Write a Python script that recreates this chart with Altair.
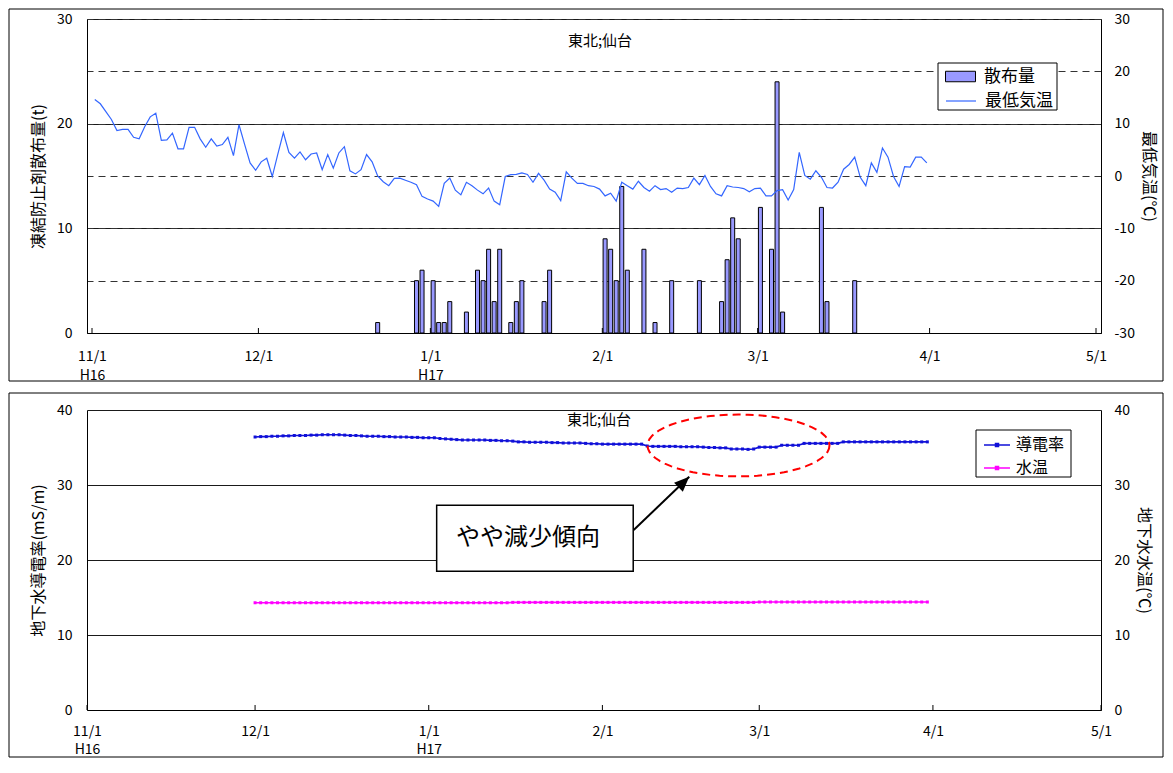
import math
import altair as alt
import pandas as pd

FONT = "Noto Sans CJK JP"

# ------------------------------------------------------------------ data
panel_title = "東北;仙台"
month_ticks = ["2004-11-01", "2004-12-01", "2005-01-01", "2005-02-01",
               "2005-03-01", "2005-04-01", "2005-05-01"]

# top panel: daily minimum temperature (deg C) from 2004-11-01
min_temp_start = "2004-11-01"
min_temp = [
    14.6, 13.8, 12.3, 10.8, 8.7, 8.9, 8.9, 7.4, 7.1, 9.4,
    11.3, 12.0, 6.8, 6.9, 8.2, 5.2, 5.2, 9.3, 9.3, 7.1,
    5.5, 7.1, 5.7, 6.0, 7.4, 3.9, 9.8, 6.1, 2.5, 1.1,
    2.7, 3.4, -0.1, 4.2, 8.3, 4.5, 3.4, 4.6, 3.1, 4.2,
    4.4, 1.2, 4.1, 1.5, 4.4, 5.6, 1.0, 0.4, 1.2, 4.1,
    2.7, 0.0, -1.1, -1.85, -0.45, -0.4, -0.8, -1.2, -1.65, -3.9,
    -4.4, -4.8, -5.8, -1.4, -0.4, -2.7, -3.6, -1.2, -1.85, -2.7,
    -3.4, -2.3, -4.8, -5.5, -0.1, 0.25, 0.3, 0.6, 0.3, -1.2,
    0.5, -0.8, -2.5, -3.1, -4.7, 0.8, -0.4, -1.4, -1.4, -1.85,
    -2.0, -2.5, -3.8, -3.3, -4.8, -1.2, -1.85, -2.5, -1.0, -2.2,
    -2.9, -1.85, -2.6, -2.4, -3.1, -2.3, -2.4, -2.2, -0.4, -1.65,
    0.1, -2.0, -3.4, -3.8, -1.85, -2.1, -2.2, -2.4, -3.0, -2.4,
    -2.3, -3.8, -3.8, -2.8, -2.6, -4.6, -2.6, 4.5, 0.1, -0.6,
    1.0, -0.25, -2.2, -2.3, -1.2, 1.3, 2.2, 3.6, -0.25, -1.85,
    2.5, 0.7, 5.35, 3.6, -0.1, -2.0, 1.8, 1.7, 3.6, 3.6,
    2.5,
]

# top panel: de-icing agent spread (t)
spread_dates = [
    "2004-12-22", "2004-12-29", "2004-12-30", "2005-01-01", "2005-01-02",
    "2005-01-03", "2005-01-04", "2005-01-07", "2005-01-09", "2005-01-10",
    "2005-01-11", "2005-01-12", "2005-01-13", "2005-01-15", "2005-01-16",
    "2005-01-17", "2005-01-21", "2005-01-22", "2005-02-01", "2005-02-02",
    "2005-02-03", "2005-02-04", "2005-02-05", "2005-02-08", "2005-02-10",
    "2005-02-13", "2005-02-18", "2005-02-22", "2005-02-23", "2005-02-24",
    "2005-02-25", "2005-03-01", "2005-03-03", "2005-03-04", "2005-03-05",
    "2005-03-12", "2005-03-13", "2005-03-18",
]
spread_tons = [
    1, 5, 6, 5, 1,
    1, 3, 2, 6, 5,
    8, 3, 8, 1, 3,
    5, 3, 6, 9, 8,
    5, 14, 6, 8, 1,
    5, 5, 3, 7, 11,
    9, 12, 8, 24, 2,
    12, 3, 5,
]

# bottom panel: groundwater conductivity (mS/m) and water temp (deg C), daily from 2004-12-01
cond_start = "2004-12-01"
conductivity = [
    # Dec
    36.40, 36.45, 36.45, 36.50, 36.50, 36.55, 36.55, 36.60, 36.60, 36.60,
    36.65, 36.65, 36.70, 36.70, 36.70, 36.70, 36.65, 36.60, 36.60, 36.55,
    36.50, 36.50, 36.50, 36.45, 36.45, 36.40, 36.40, 36.40, 36.35, 36.35, 36.30,
    # Jan
    36.30, 36.30, 36.20, 36.15, 36.10, 36.05, 36.00, 36.00, 36.00, 36.00,
    36.00, 35.95, 35.95, 35.90, 35.90, 35.85, 35.75, 35.75, 35.70, 35.70,
    35.70, 35.70, 35.65, 35.65, 35.60, 35.60, 35.60, 35.60, 35.55, 35.50, 35.50,
    # Feb
    35.45, 35.45, 35.45, 35.45, 35.45, 35.45, 35.45, 35.45, 35.20, 35.15,
    35.15, 35.15, 35.15, 35.15, 35.10, 35.10, 35.10, 35.10, 35.05, 35.00,
    35.00, 34.95, 34.95, 34.80, 34.80, 34.80, 34.75, 34.80,
    # Mar
    35.05, 35.05, 35.05, 35.05, 35.30, 35.30, 35.30, 35.30, 35.55, 35.55,
    35.55, 35.55, 35.55, 35.55, 35.55, 35.75, 35.75, 35.75, 35.75, 35.75,
    35.75, 35.75, 35.75, 35.75, 35.75, 35.75, 35.75, 35.75, 35.75, 35.75, 35.75,
]
water_temp = [
    # Dec
    14.30, 14.30, 14.30, 14.30, 14.30, 14.30, 14.30, 14.30, 14.30, 14.30,
    14.30, 14.30, 14.30, 14.30, 14.30, 14.30, 14.30, 14.30, 14.30, 14.30,
    14.30, 14.30, 14.30, 14.30, 14.30, 14.30, 14.30, 14.30, 14.30, 14.30, 14.30,
    # Jan
    14.30, 14.30, 14.30, 14.30, 14.30, 14.30, 14.30, 14.30, 14.30, 14.30,
    14.30, 14.30, 14.30, 14.30, 14.30, 14.35, 14.35, 14.35, 14.35, 14.35,
    14.35, 14.35, 14.35, 14.35, 14.35, 14.35, 14.35, 14.35, 14.35, 14.35, 14.35,
    # Feb
    14.35, 14.35, 14.35, 14.35, 14.35, 14.35, 14.35, 14.35, 14.35, 14.35,
    14.35, 14.35, 14.35, 14.35, 14.35, 14.35, 14.35, 14.35, 14.35, 14.35,
    14.35, 14.35, 14.35, 14.35, 14.35, 14.35, 14.35, 14.35,
    # Mar
    14.40, 14.40, 14.40, 14.40, 14.40, 14.40, 14.40, 14.40, 14.40, 14.40,
    14.40, 14.40, 14.40, 14.40, 14.40, 14.40, 14.40, 14.40, 14.40, 14.40,
    14.40, 14.40, 14.40, 14.40, 14.40, 14.40, 14.40, 14.40, 14.40, 14.40, 14.40,
]

# annotation (bottom panel, data coordinates)
note_text = "やや減少傾向"
note_box = {"x1": "2005-01-02T10:00:00Z", "x2": "2005-02-06T12:00:00Z", "y1": 18.5, "y2": 27.3}
note_pos = {"d": "2005-01-18T17:00:00Z", "v": 22.9}
arrow_pts = [("2005-02-06T14:00:00Z", 24.0), ("2005-02-16T12:00:00Z", 31.1)]
ellipse_center = ("2005-02-25T07:00:00Z", 35.27)

# ------------------------------------------------------------------ frames
temp_df = pd.DataFrame({
    "date": pd.date_range(min_temp_start, periods=len(min_temp), freq="D").strftime("%Y-%m-%dT12:00:00Z"),
    "t": min_temp, "s": "最低気温"})
bar_df = pd.DataFrame({"date": [d + "T12:00:00Z" for d in spread_dates],
                       "v": spread_tons, "s": "散布量"})
cond_df = pd.DataFrame({
    "date": pd.date_range(cond_start, periods=len(conductivity), freq="D").strftime("%Y-%m-%dT00:00:00Z"),
    "v": conductivity, "s": "導電率"})
wt_df = pd.DataFrame({
    "date": pd.date_range(cond_start, periods=len(water_temp), freq="D").strftime("%Y-%m-%dT00:00:00Z"),
    "v": water_temp, "s": "水温"})
tick_df = pd.DataFrame({"date": [m + "T00:00:00Z" for m in month_ticks]})
one = pd.DataFrame({"k": [0]})
box_df = pd.DataFrame([note_box])
note_df = pd.DataFrame([{**note_pos, "t": note_text}])
arrow_df = pd.DataFrame({"d": [p[0] for p in arrow_pts], "v": [p[1] for p in arrow_pts]})
head_df = pd.DataFrame({"d": [arrow_pts[-1][0]], "v": [arrow_pts[-1][1]]})
ell_df = pd.DataFrame({"d": [ellipse_center[0]], "v": [ellipse_center[1]]})

# ------------------------------------------------------------------ layout
W = 1014
H1 = 314
H2 = 300

x_scale = alt.Scale(type="utc", nice=False, domain=[
    alt.DateTime(year=2004, month=11, date=1, utc=True),
    alt.DateTime(year=2005, month=5, date=1, utc=True)])
x_values = [int(pd.Timestamp(m, tz="UTC").value // 10**6) for m in month_ticks]

MD = "(utcmonth(datum.value) + 1) + '/' + utcdate(datum.value)"
LBL = (f"utcmonth(datum.value) == 10 ? [{MD}, 'H16'] : "
       f"utcmonth(datum.value) == 0 ? [{MD}, 'H17'] : {MD}")


def x_axis(pad, lh):
    return alt.Axis(values=x_values, labelExpr=LBL, labelFlush=False, labelOverlap=False,
                    ticks=False, tickSize=0, grid=False, domainColor="black", domainWidth=1,
                    labelPadding=pad, labelLineHeight=lh, labelFontSize=14, title=None, zindex=0)


def y_axis(orient, values, title, grid, dash=None, pad=14, tpad=10, expr=None):
    kw = dict(orient=orient, values=values, title=title, grid=grid, ticks=False, tickSize=0,
              domainColor="black", domainWidth=1, labelPadding=pad, labelFontSize=14,
              titleFontSize=16, titleFontWeight="normal", titlePadding=tpad, zindex=0,
              gridColor="#1a1a1a", gridWidth=1)
    if dash:
        kw["gridDash"] = dash
        kw["gridColor"] = "#333333"
    if expr:
        kw["labelExpr"] = expr
    return alt.Axis(**kw)


TOP_X = x_axis(16, 19)
BOT_X = x_axis(14, 18)


def frame(x1, x2, y1, y2, fill=None):
    if fill:
        m = alt.Chart(one).mark_rect(fill=fill, stroke="black", strokeWidth=1)
    else:
        m = alt.Chart(one).mark_rect(fillOpacity=0, stroke="black", strokeWidth=1)
    return m.encode(x=alt.value(x1), x2=alt.value(x2), y=alt.value(y1), y2=alt.value(y2))


def month_rules(h, ax):
    return alt.Chart(tick_df).mark_rule(color="black", strokeWidth=1).encode(
        x=alt.X("date:T", scale=x_scale, axis=ax), y=alt.value(h), y2=alt.value(h - 5))


def title_text(x, y):
    return alt.Chart(one).mark_text(text=panel_title, fontSize=15, color="black").encode(
        x=alt.value(x), y=alt.value(y))


# ---------------- top panel
bars = alt.Chart(bar_df).mark_bar(size=4, stroke="black", strokeWidth=1).encode(
    x=alt.X("date:T", scale=x_scale, axis=TOP_X),
    y=alt.Y("v:Q", scale=alt.Scale(domain=[0, 30], nice=False),
            axis=y_axis("left", [0, 10, 20, 30], "凍結防止剤散布量(t)", True, pad=15)),
    color=alt.Color("s:N", scale=alt.Scale(domain=["散布量"], range=["#9999FF"]),
                    legend=alt.Legend(orient="none", legendX=858, legendY=42, title=None,
                                      direction="vertical", padding=0,
                                      symbolType="M-1,-0.35H1V0.35H-1Z", symbolSize=900,
                                      symbolStrokeColor="black", symbolStrokeWidth=1,
                                      labelFontSize=17, labelOffset=8, labelColor="black")),
)
tline = alt.Chart(temp_df).mark_line(strokeWidth=1.2).encode(
    x=alt.X("date:T", scale=x_scale, axis=TOP_X),
    y=alt.Y("t:Q", scale=alt.Scale(domain=[-30, 30], nice=False),
            axis=y_axis("right", [-30, -20, -10, 0, 10, 20, 30], "最低気温(℃)", True,
                        dash=[7, 5], pad=13, tpad=6, expr="'' + datum.value")),
    stroke=alt.Stroke("s:N", scale=alt.Scale(domain=["最低気温"], range=["#3366FF"]),
                      legend=alt.Legend(orient="none", legendX=858, legendY=66, title=None,
                                        direction="vertical", padding=0,
                                        symbolType="M-1,0H1", symbolSize=900,
                                        symbolStrokeWidth=1.2,
                                        labelFontSize=17, labelOffset=8, labelColor="black")),
)
top = alt.layer(
    bars, tline, month_rules(H1, TOP_X), title_text(513, 22),
    frame(851, 970, 44, 91, fill="white"),
    frame(-78, 1076, -10, 362),
).resolve_scale(y="independent").properties(width=W, height=H1)

# ---------------- bottom panel
y40 = alt.Scale(domain=[0, 40], nice=False)
series_color = alt.Scale(domain=["導電率", "水温"], range=["#1010D8", "#FF00FF"])
legC = alt.Legend(orient="none", legendX=899, legendY=24, title=None, direction="vertical",
                  padding=0, rowPadding=4,
                  symbolType="M-1.3,0H1.3M-0.15,-0.15H0.15V0.15H-0.15Z", symbolSize=400,
                  symbolStrokeWidth=1.5, labelFontSize=16, labelOffset=8, labelColor="black")
pt = alt.OverlayMarkDef(shape="square", size=9, filled=True, opacity=1)

cline = alt.Chart(cond_df).mark_line(strokeWidth=1.6, point=pt).encode(
    x=alt.X("date:T", scale=x_scale, axis=BOT_X),
    y=alt.Y("v:Q", scale=y40,
            axis=y_axis("left", [0, 10, 20, 30, 40], "地下水導電率(mS/m)", True, pad=15)),
    color=alt.Color("s:N", scale=series_color, legend=legC),
)
wline = alt.Chart(wt_df).mark_line(strokeWidth=1.6, point=pt).encode(
    x=alt.X("date:T", scale=x_scale, axis=BOT_X),
    y=alt.Y("v:Q", scale=y40,
            axis=y_axis("right", [0, 10, 20, 30, 40], "地下水水温(℃)", False, pad=13, tpad=6)),
    color=alt.Color("s:N", scale=series_color, legend=legC),
)
box = alt.Chart(box_df).mark_rect(fill="white", stroke="black", strokeWidth=1.5).encode(
    x=alt.X("x1:T", scale=x_scale, axis=BOT_X), x2="x2:T",
    y=alt.Y("y1:Q", scale=y40, axis=None), y2="y2:Q")
note = alt.Chart(note_df).mark_text(fontSize=24, color="black", baseline="middle").encode(
    x=alt.X("d:T", scale=x_scale, axis=BOT_X),
    y=alt.Y("v:Q", scale=y40, axis=None), text="t:N")
arrow = alt.Chart(arrow_df).mark_line(color="black", strokeWidth=2).encode(
    x=alt.X("d:T", scale=x_scale, axis=BOT_X), y=alt.Y("v:Q", scale=y40, axis=None))
head = alt.Chart(head_df).mark_point(shape="M0,0L-0.42,1L0.42,1Z", size=900, filled=True,
                                      color="black", opacity=1, angle=46).encode(
    x=alt.X("d:T", scale=x_scale, axis=BOT_X), y=alt.Y("v:Q", scale=y40, axis=None))

ell_path = "M" + "L".join(
    f"{math.cos(2 * math.pi * i / 60):.4f},{0.34 * math.sin(2 * math.pi * i / 60):.4f}"
    for i in range(60)) + "Z"
ellipse = alt.Chart(ell_df).mark_point(shape=ell_path, size=182 * 182, filled=False,
                                        stroke="#FF0000", strokeWidth=2, strokeDash=[8, 5],
                                        opacity=1).encode(
    x=alt.X("d:T", scale=x_scale, axis=BOT_X), y=alt.Y("v:Q", scale=y40, axis=None))

bottom = alt.layer(
    cline, wline, month_rules(H2, BOT_X), title_text(512, 10),
    box, note, arrow, head, ellipse,
    frame(889, 984, 20, 67, fill="white"),
    frame(-78, 1076, -17, 347),
).resolve_scale(y="independent").properties(width=W, height=H2)

chart = alt.vconcat(top, bottom, spacing=10).resolve_scale(
    color="independent", stroke="independent"
).properties(padding=0).configure(font=FONT, background="white").configure_view(
    stroke=None
).configure_axis(labelColor="black", titleColor="black")

chart.save("out.html", embed_options={"renderer": "svg", "actions": False})
